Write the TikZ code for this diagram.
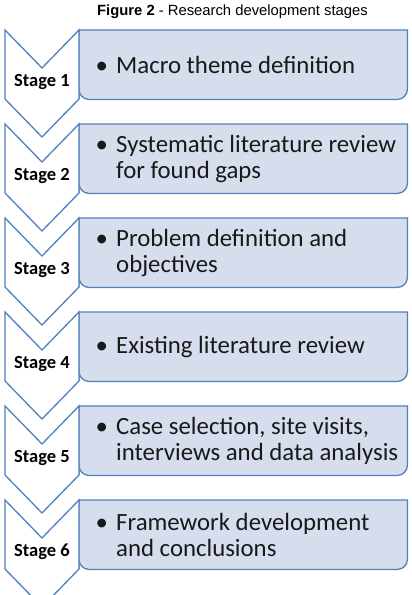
\documentclass[tikz,border=0pt]{standalone}
\usepackage{fontspec}
\setmainfont{Carlito}
\newfontfamily\captionfont{Liberation Sans}
\usetikzlibrary{positioning}
\definecolor{stageline}{RGB}{79,129,189}
\definecolor{itembg}{RGB}{214,221,237}
\definecolor{itemfg}{RGB}{25,25,25}
\tikzset{
  chevron/.style={draw=stageline, fill=white, line width=1.3pt,
                  line join=miter},
  stagelabel/.style={inner sep=0pt, font=\fontsize{18.5}{20}\selectfont\bfseries},
  itembox/.style={rectangle, minimum width=328pt, minimum height=69pt,
                  inner sep=0pt},
  itemline/.style={draw=stageline, fill=itembg, line width=1.3pt},
  itemtext/.style={align=left, inner sep=0pt, text=itemfg,
                   font=\fontsize{24.8}{26}\selectfont},
}
\newcommand{\stagebullet}{\makebox[20.5pt][l]{\textbullet}}
\newcommand{\stageindent}{\hspace*{20.5pt}}

\begin{document}
\begin{tikzpicture}[x=1pt, y=-1pt]
  \clip (0,0) rectangle (412,595);
  \fill[white] (0,0) rectangle (412,595);
  \node[anchor=base, font=\captionfont\fontsize{14.8}{17}\selectfont] (title)
    at (232.5,15.7) {\textbf{Figure 2} - Research development stages};

  % boxes on the right
  \node[itembox, anchor=north west] (b1) at (79,30) {};
  \node[itembox, below=24.6pt of b1] (b2) {};
  \node[itembox, below=24.6pt of b2] (b3) {};
  \node[itembox, below=24.6pt of b3] (b4) {};
  \node[itembox, below=24.6pt of b4] (b5) {};
  \node[itembox, below=24.6pt of b5] (b6) {};
  \draw[itemline] (b1.south west) -- (b1.north west) -- (b1.north east)
    {[rounded corners=10pt] -- (b1.south east) -- (b1.south west)} -- cycle;
  \draw[itemline] (b2.south west) -- (b2.north west) -- (b2.north east)
    {[rounded corners=10pt] -- (b2.south east) -- (b2.south west)} -- cycle;
  \draw[itemline] (b3.south west) -- (b3.north west) -- (b3.north east)
    {[rounded corners=10pt] -- (b3.south east) -- (b3.south west)} -- cycle;
  \draw[itemline] (b4.south west) -- (b4.north west) -- (b4.north east)
    {[rounded corners=10pt] -- (b4.south east) -- (b4.south west)} -- cycle;
  \draw[itemline] (b5.south west) -- (b5.north west) -- (b5.north east)
    {[rounded corners=10pt] -- (b5.south east) -- (b5.south west)} -- cycle;
  \draw[itemline] (b6.south west) -- (b6.north west) -- (b6.north east)
    {[rounded corners=10pt] -- (b6.south east) -- (b6.south west)} -- cycle;

  % chevrons on the left
  \draw[chevron] (b1.north west) -- ++(-37,38) -- ++(-37,-38) -- ++(0,69)
    -- ++(37,38) -- ++(37,-38) -- cycle;
  \draw[chevron] (b2.north west) -- ++(-37,38) -- ++(-37,-38) -- ++(0,69)
    -- ++(37,38) -- ++(37,-38) -- cycle;
  \draw[chevron] (b3.north west) -- ++(-37,38) -- ++(-37,-38) -- ++(0,69)
    -- ++(37,38) -- ++(37,-38) -- cycle;
  \draw[chevron] (b4.north west) -- ++(-37,38) -- ++(-37,-38) -- ++(0,69)
    -- ++(37,38) -- ++(37,-38) -- cycle;
  \draw[chevron] (b5.north west) -- ++(-37,38) -- ++(-37,-38) -- ++(0,69)
    -- ++(37,38) -- ++(37,-38) -- cycle;
  \draw[chevron] (b6.north west) -- ++(-37,38) -- ++(-37,-38) -- ++(0,69)
    -- ++(37,38) -- ++(37,-38) -- cycle;
  \node[stagelabel] (s1) at ([xshift=-37pt, yshift=-52pt]b1.north west) {Stage 1};
  \node[stagelabel] (s2) at ([xshift=-37pt, yshift=-52pt]b2.north west) {Stage 2};
  \node[stagelabel] (s3) at ([xshift=-37pt, yshift=-52pt]b3.north west) {Stage 3};
  \node[stagelabel] (s4) at ([xshift=-37pt, yshift=-52pt]b4.north west) {Stage 4};
  \node[stagelabel] (s5) at ([xshift=-37pt, yshift=-52pt]b5.north west) {Stage 5};
  \node[stagelabel] (s6) at ([xshift=-37pt, yshift=-52pt]b6.north west) {Stage 6};

  % texts
  \node[itemtext, right=16.5pt of b1.west] (t1)
    {\stagebullet Macro theme definition};
  \node[itemtext, right=16.5pt of b2.west] (t2)
    {\stagebullet Systematic literature review\\\stageindent for found gaps};
  \node[itemtext, right=16.5pt of b3.west] (t3)
    {\stagebullet Problem definition and\\\stageindent objectives};
  \node[itemtext, right=16.5pt of b4.west] (t4)
    {\stagebullet Existing literature review};
  \node[itemtext, right=16.5pt of b5.west] (t5)
    {\stagebullet Case selection, site visits,\\\stageindent interviews and data analysis};
  \node[itemtext, right=16.5pt of b6.west] (t6)
    {\stagebullet Framework development\\\stageindent and conclusions};
\end{tikzpicture}
\end{document}
